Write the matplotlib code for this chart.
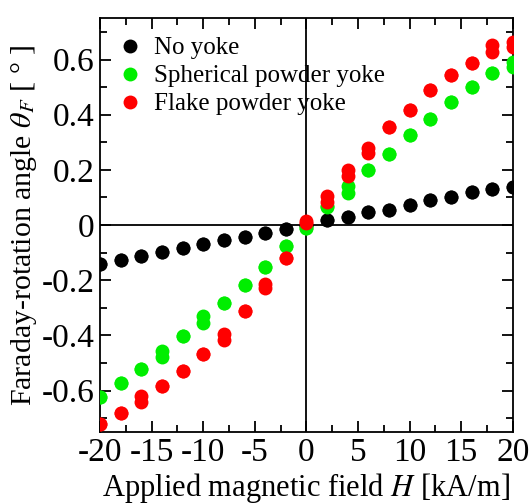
import matplotlib
matplotlib.use("Agg")
import matplotlib.pyplot as plt
from matplotlib.ticker import MultipleLocator, FuncFormatter

plt.rcParams['font.family'] = ['Liberation Serif', 'DejaVu Serif']
plt.rcParams['mathtext.fontset'] = 'stix'
plt.rcParams['axes.unicode_minus'] = False

# applied field [kA/m]
field = [-20, -18, -16, -14, -12, -10, -8, -6, -4, -2, 0,
         2, 4, 6, 8, 10, 12, 14, 16, 18, 20]

# Faraday rotation [deg], two sweeps per sample
no_yoke_1 = [-0.143, -0.128, -0.113, -0.096, -0.084, -0.069, -0.056, -0.043, -0.028, -0.014, 0.0,
             0.017, 0.030, 0.046, 0.056, 0.072, 0.089, 0.102, 0.119, 0.131, 0.138]
no_yoke_2 = no_yoke_1

sphere_1 = [-0.625, -0.571, -0.523, -0.456, -0.402, -0.330, -0.284, -0.219, -0.151, -0.077, -0.011,
            0.068, 0.143, 0.201, 0.259, 0.325, 0.384, 0.447, 0.500, 0.550, 0.592]
sphere_2 = [-0.625, -0.571, -0.523, -0.477, -0.402, -0.354, -0.284, -0.219, -0.151, -0.077, -0.011,
            0.064, 0.116, 0.201, 0.259, 0.325, 0.384, 0.447, 0.500, 0.550, 0.572]

flake_1 = [-0.722, -0.683, -0.619, -0.583, -0.529, -0.466, -0.396, -0.313, -0.212, -0.119, 0.008,
           0.104, 0.201, 0.279, 0.357, 0.418, 0.490, 0.544, 0.589, 0.653, 0.665]
flake_2 = [-0.722, -0.683, -0.643, -0.583, -0.529, -0.466, -0.417, -0.313, -0.227, -0.119, 0.015,
           0.082, 0.177, 0.261, 0.357, 0.418, 0.490, 0.544, 0.589, 0.629, 0.647]

labels = ["No yoke", "Spherical powder yoke", "Flake powder yoke"]
colors = ["black", "#00ee00", "#ff0000"]

fig = plt.figure(figsize=(5.32, 5.04), dpi=100)
ax = fig.add_axes([0.188, 0.143, 0.776, 0.821])

ax.axhline(0, color='black', lw=1.3, zorder=1)
ax.axvline(0, color='black', lw=1.3, zorder=1)

series = [(no_yoke_1, no_yoke_2), (sphere_1, sphere_2), (flake_1, flake_2)]
for (s1, s2), lab, c in zip(series, labels, colors):
    ax.plot(field, s2, 'o', color=c, ms=10, mec='none', zorder=3)
    ax.plot(field, s1, 'o', color=c, ms=10, mec='none', zorder=3, label=lab)

ax.set_xlim(-20, 20)
ax.set_ylim(-0.75, 0.75)
ax.xaxis.set_major_locator(MultipleLocator(5))
ax.xaxis.set_minor_locator(MultipleLocator(2.5))
ax.yaxis.set_major_locator(MultipleLocator(0.2))
ax.yaxis.set_minor_locator(MultipleLocator(0.1))
ax.xaxis.set_major_formatter(FuncFormatter(lambda v, p: "%g" % round(v, 2)))
ax.yaxis.set_major_formatter(FuncFormatter(lambda v, p: "%g" % round(v, 2)))

ax.tick_params(which='both', direction='in', top=True, right=True, width=1.3, labelsize=24, pad=4)
ax.tick_params(which='major', length=8)
ax.tick_params(which='minor', length=5)
for sp in ax.spines.values():
    sp.set_linewidth(1.3)

ax.set_xlabel(r"Applied magnetic field $H$ [kA/m]", fontsize=22, labelpad=2)
ax.set_ylabel(r"Faraday-rotation angle $\theta_F$ [ ° ]", fontsize=21.5, labelpad=2)

ax.legend(loc='upper left', frameon=False, fontsize=18, handletextpad=0.5,
          borderaxespad=0.35, labelspacing=0.22, handlelength=0.9, markerscale=1.0,
          borderpad=0.4)

fig.savefig("out.png", dpi=100)
